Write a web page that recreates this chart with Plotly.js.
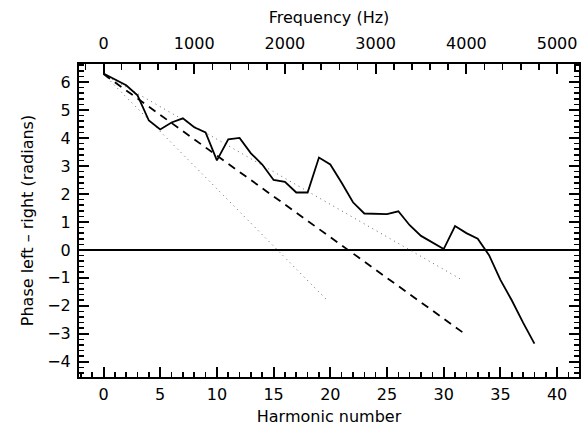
<!DOCTYPE html>
<html>
<head>
<meta charset="utf-8">
<script src="https://cdn.plot.ly/plotly-3.0.1.min.js"></script>
<style>html,body{margin:0;padding:0;background:#fff;}#chart{width:585px;height:434px;}</style>
</head>
<body>
<div id="chart"></div>
<script>
// Measured phase difference (solid line), one value per harmonic
const harmonics = [0,1,2,3,4,5,6,7,8,9,10,11,12,13,14,15,16,17,18,19,20,21,22,23,24,25,26,27,28,29,30,31,32,33,34,35,36,37,38];
const phase = [6.3,6.1,5.88,5.52,4.62,4.3,4.55,4.7,4.38,4.2,3.2,3.95,4.0,3.45,3.05,2.5,2.43,2.05,2.05,3.3,3.05,2.4,1.7,1.3,1.28,1.28,1.38,0.88,0.5,0.25,0.03,0.85,0.6,0.4,-0.19,-1.07,-1.8,-2.6,-3.35];
// Reference lines (endpoints)
const dashedX = [0, 32];
const dashedY = [6.28, -3.04];
const dotUpperX = [0, 31.6];
const dotUpperY = [6.28, -1.07];
const dotLowerX = [0, 19.7];
const dotLowerY = [6.28, -1.79];
const f0 = 125; // Hz per harmonic (top axis)
const freqTicks = [0, 1000, 2000, 3000, 4000, 5000];

const xRange = [-2.16, 41.93];
const yRange = [-4.54, 6.64];
const font = {family: 'DejaVu Sans, sans-serif', size: 16, color: '#000'};

const traces = [
  {x: dotLowerX, y: dotLowerY, mode: 'lines', line: {color: '#666', width: 1, dash: '1px,4px'}},
  {x: dotUpperX, y: dotUpperY, mode: 'lines', line: {color: '#666', width: 1, dash: '1px,4px'}},
  {x: dashedX, y: dashedY, mode: 'lines', line: {color: '#000', width: 1.8, dash: '8px,6px'}},
  {x: harmonics, y: phase, mode: 'lines', line: {color: '#000', width: 1.8}},
  {x: [0], y: [0], xaxis: 'x2', yaxis: 'y', mode: 'markers', marker: {opacity: 0}}
];

const layout = {
  width: 585, height: 434,
  margin: {l: 79, r: 6, t: 64, b: 57},
  paper_bgcolor: '#fff', plot_bgcolor: '#fff',
  showlegend: false,
  font: font,
  xaxis: {
    range: xRange, dtick: 5, tick0: 0,
    ticks: 'inside', ticklen: 10, tickwidth: 2, tickcolor: '#000',
    minor: {dtick: 1, tick0: 0, ticks: 'inside', ticklen: 5, tickwidth: 1.6, tickcolor: '#000'},
    showline: true, linecolor: '#000', linewidth: 2, mirror: true,
    showgrid: false, zeroline: false,
    ticklabelstandoff: 2,
    title: {text: 'Harmonic number', font: font, standoff: 8},
    tickfont: font
  },
  xaxis2: {
    overlaying: 'x', side: 'top', anchor: 'y',
    range: [xRange[0] * f0, xRange[1] * f0],
    tickvals: freqTicks, ticktext: freqTicks.map(String),
    ticks: 'inside', ticklen: 10, tickwidth: 2, tickcolor: '#000',
    minor: {dtick: 200, tick0: 0, tickmode: 'linear', ticks: 'inside', ticklen: 6, tickwidth: 1.6, tickcolor: '#000'},
    showgrid: false, zeroline: false, showline: false,
    ticklabelstandoff: 11,
    title: {text: 'Frequency (Hz)', font: font, standoff: 6},
    tickfont: font
  },
  yaxis: {
    range: yRange, dtick: 1, tick0: 0,
    ticks: 'inside', ticklen: 10, tickwidth: 2, tickcolor: '#000',
    minor: {dtick: 0.2, tick0: 0, ticks: 'inside', ticklen: 5, tickwidth: 1.6, tickcolor: '#000'},
    showline: true, linecolor: '#000', linewidth: 2, mirror: 'ticks',
    showgrid: false, zeroline: true, zerolinecolor: '#000', zerolinewidth: 1.2,
    ticklabelstandoff: 3,
    title: {text: 'Phase left \u2013 right (radians)', font: font, standoff: 10},
    tickfont: font
  }
};

Plotly.newPlot('chart', traces, layout, {staticPlot: true, displayModeBar: false});
</script>
</body>
</html>
